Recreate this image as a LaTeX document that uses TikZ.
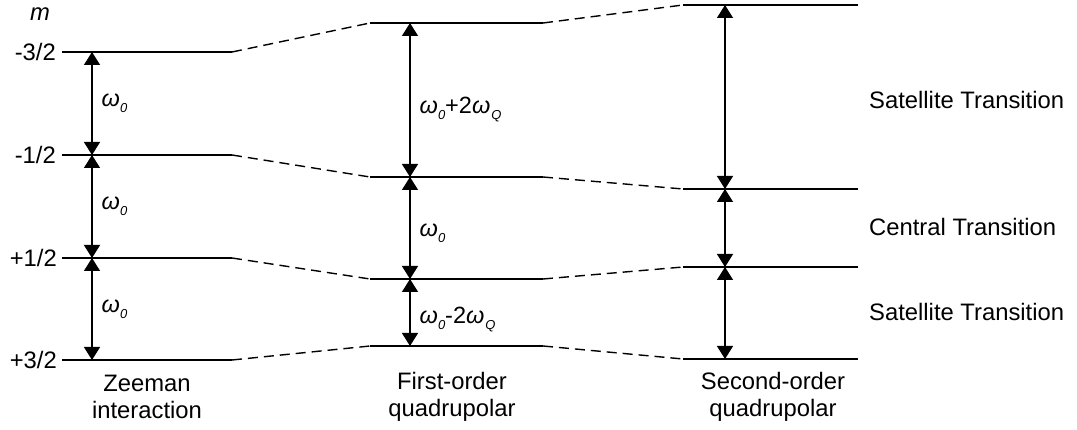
\documentclass[tikz,border=0pt]{standalone}
\usepackage{fontspec}
\setmainfont{Liberation Sans}
\usetikzlibrary{arrows.meta, positioning}

\newcommand{\omsub}[1]{\raisebox{-6pt}{\fontsize{13}{13}\selectfont\textit{#1}}}
\newcommand{\omzero}{\textit{ω}\omsub{0}}
\newcommand{\omquad}{\textit{ω}\kern1pt\omsub{Q}}

\begin{document}
\begin{tikzpicture}[x=1pt, y=-1pt, >={Triangle[length=13pt, width=16pt]},
  level/.style={line width=1.4pt},
  link/.style={line width=1.4pt, dash pattern=on 10pt off 6pt},
  trans/.style={<->, line width=1.4pt},
  txt/.style={font=\fontsize{23.8}{27}\selectfont, inner sep=0pt},
  omlbl/.style={font=\fontsize{23.5}{26}\selectfont, inner sep=0pt, right=9pt}]
  \useasboundingbox (0,0) rectangle (1077,430);

  % energy levels of the three cases
  \foreach \n/\y in {1/52, 2/155, 3/258, 4/360} {
    \coordinate (zl\n) at (62,\y);
    \coordinate (zr\n) at (232,\y);
    \coordinate (za\n) at (92,\y);
  }
  \foreach \n/\y in {1/23, 2/177, 3/279, 4/346} {
    \coordinate (fl\n) at (370,\y);
    \coordinate (fr\n) at (543,\y);
    \coordinate (fa\n) at (410,\y);
  }
  \foreach \n/\y in {1/5, 2/189, 3/267, 4/359} {
    \coordinate (sl\n) at (683,\y);
    \coordinate (sr\n) at (858,\y);
    \coordinate (sa\n) at (725,\y);
  }
  \foreach \n in {1,...,4} {
    \draw[level] (zl\n) -- (zr\n);
    \draw[level] (fl\n) -- (fr\n);
    \draw[level] (sl\n) -- (sr\n);
    \draw[link] (zr\n) -- (fl\n);
    \draw[link] (fr\n) -- (sl\n);
  }

  % spin quantum numbers
  \node[txt, font=\fontsize{23.8}{27}\selectfont\itshape] (mlab) at (40,14) {m};
  \node[txt, anchor=east] (m1) at (56,52) {-3/2};
  \node[txt, anchor=east] (m2) at (56,155) {-1/2};
  \node[txt, anchor=east] (m3) at (57,258) {+1/2};
  \node[txt, anchor=east] (m4) at (57,360) {+3/2};

  % transitions
  \draw[trans] (za1) -- (za2) node[midway, omlbl] {\omzero};
  \draw[trans] (za2) -- (za3) node[midway, omlbl] {\omzero};
  \draw[trans] (za3) -- (za4) node[midway, omlbl] {\omzero};
  \draw[trans] (fa1) -- (fa2) node[midway, omlbl, yshift=-10pt] {\omzero+2\omquad};
  \draw[trans] (fa2) -- (fa3) node[midway, omlbl, yshift=-5pt] {\omzero};
  \draw[trans] (fa3) -- (fa4) node[midway, omlbl, yshift=-7pt] {\omzero-2\omquad};
  \draw[trans] (sa1) -- (sa2);
  \draw[trans] (sa2) -- (sa3);
  \draw[trans] (sa3) -- (sa4);

  % transition names
  \node[txt, anchor=west] (sat1) at (869,100) {Satellite Transition};
  \node[txt, anchor=west] (cent) at (869,227) {Central Transition};
  \node[txt, anchor=west] (sat2) at (869,312) {Satellite Transition};

  % interaction names
  \node[txt, align=center] (zee) at (147,397) {Zeeman\\interaction};
  \node[txt, align=center] (first) at (452,397) {First-order\\quadrupolar};
  \node[txt, align=center] (second) at (773,397) {Second-order\\quadrupolar};
\end{tikzpicture}
\end{document}
